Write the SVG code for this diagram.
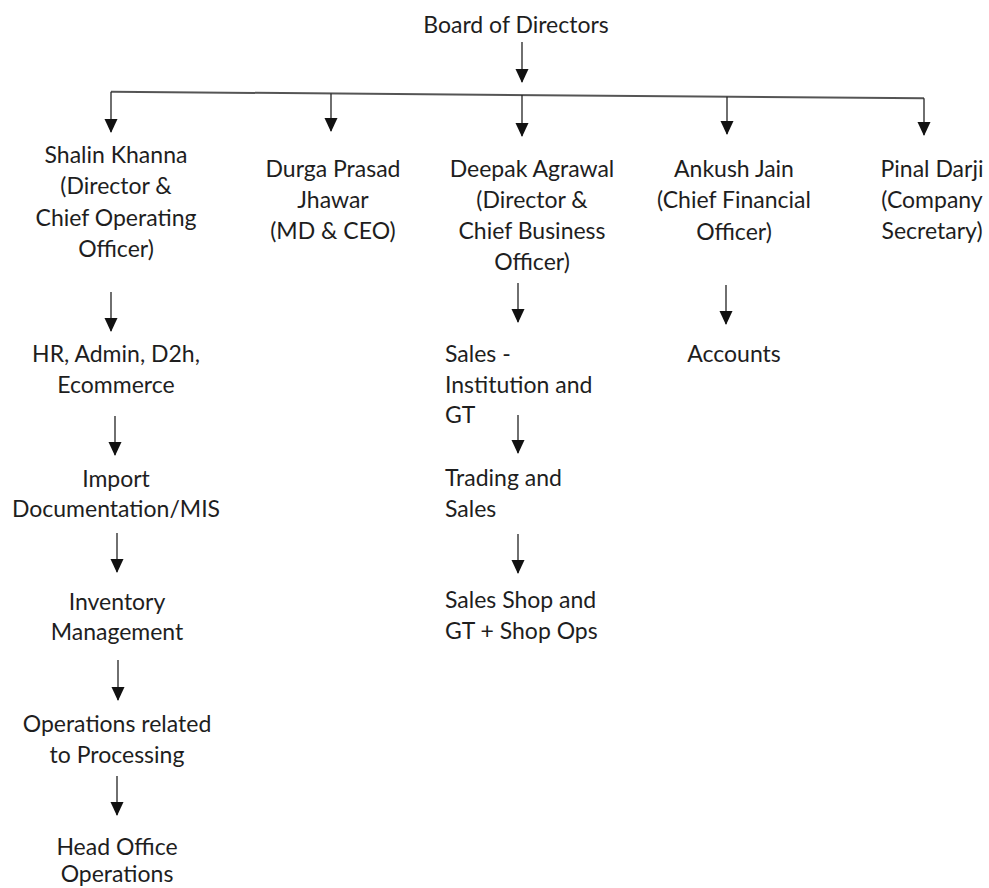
<svg xmlns="http://www.w3.org/2000/svg" width="989" height="888" viewBox="0 0 989 888">
<defs>
<marker id="ah" markerUnits="userSpaceOnUse" markerWidth="14" markerHeight="14" viewBox="0 0 14 14" refX="13" refY="7" orient="auto">
<path d="M0,0.5 L14,7 L0,13.5 Z" fill="#111"/>
</marker>
<style>
text{font-family:Lato,"Liberation Sans",sans-serif;font-size:23px;fill:#1e1e1e}
.c{text-anchor:middle}
.l{text-anchor:start}
.a{stroke:#222;stroke-width:1.3;fill:none}
.h{stroke:#555;stroke-width:2;fill:none}
</style>
</defs>
<rect width="989" height="888" fill="#fff"/>
<g id="connectors">
<line class="a" x1="522" y1="42" x2="522" y2="82" marker-end="url(#ah)"/>
<line class="h" x1="111" y1="91.7" x2="924" y2="98.3"/>
<line class="a" x1="111" y1="91.7" x2="111" y2="132" marker-end="url(#ah)"/>
<line class="a" x1="331" y1="93.5" x2="331" y2="131" marker-end="url(#ah)"/>
<line class="a" x1="522" y1="95" x2="522" y2="136" marker-end="url(#ah)"/>
<line class="a" x1="727" y1="96.7" x2="727" y2="134" marker-end="url(#ah)"/>
<line class="a" x1="924" y1="98.3" x2="924" y2="135" marker-end="url(#ah)"/>
<line class="a" x1="111" y1="292" x2="111" y2="331" marker-end="url(#ah)"/>
<line class="a" x1="115" y1="416" x2="115" y2="455" marker-end="url(#ah)"/>
<line class="a" x1="117" y1="533" x2="117" y2="572" marker-end="url(#ah)"/>
<line class="a" x1="118" y1="660" x2="118" y2="700" marker-end="url(#ah)"/>
<line class="a" x1="117" y1="776" x2="117" y2="815" marker-end="url(#ah)"/>
<line class="a" x1="518" y1="283" x2="518" y2="322" marker-end="url(#ah)"/>
<line class="a" x1="518" y1="415" x2="518" y2="453" marker-end="url(#ah)"/>
<line class="a" x1="518" y1="534" x2="518" y2="573" marker-end="url(#ah)"/>
<line class="a" x1="726" y1="285" x2="726" y2="324" marker-end="url(#ah)"/>
</g>
<g id="board"><text class="c" x="516" y="33">Board of Directors</text></g>
<g id="shalin"><text class="c" x="116" y="163">Shalin Khanna</text><text class="c" x="116" y="194">(Director &amp;</text><text class="c" x="116" y="226">Chief Operating</text><text class="c" x="116" y="257">Officer)</text></g>
<g id="durga"><text class="c" x="333" y="177">Durga Prasad</text><text class="c" x="333" y="208">Jhawar</text><text class="c" x="333" y="239">(MD &amp; CEO)</text></g>
<g id="deepak"><text class="c" x="532" y="177">Deepak Agrawal</text><text class="c" x="532" y="208">(Director &amp;</text><text class="c" x="532" y="239">Chief Business</text><text class="c" x="532" y="270">Officer)</text></g>
<g id="ankush"><text class="c" x="734" y="177">Ankush Jain</text><text class="c" x="734" y="208">(Chief Financial</text><text class="c" x="734" y="240">Officer)</text></g>
<g id="pinal"><text class="c" x="932" y="177">Pinal Darji</text><text class="c" x="932" y="208">(Company</text><text class="c" x="932" y="239">Secretary)</text></g>
<g id="hr"><text class="c" x="116" y="362">HR, Admin, D2h,</text><text class="c" x="116" y="393">Ecommerce</text></g>
<g id="import"><text class="c" x="116" y="487">Import</text><text class="c" x="116" y="517">Documentation/MIS</text></g>
<g id="inventory"><text class="c" x="117" y="610">Inventory</text><text class="c" x="117" y="640">Management</text></g>
<g id="operations"><text class="c" x="117" y="732">Operations related</text><text class="c" x="117" y="763">to Processing</text></g>
<g id="headoffice"><text class="c" x="117" y="855">Head Office</text><text class="c" x="117" y="882">Operations</text></g>
<g id="sales"><text class="l" x="445" y="362">Sales -</text><text class="l" x="445" y="393">Institution and</text><text class="l" x="445" y="423">GT</text></g>
<g id="trading"><text class="l" x="445" y="486">Trading and</text><text class="l" x="445" y="517">Sales</text></g>
<g id="shop"><text class="l" x="445" y="608">Sales Shop and</text><text class="l" x="445" y="639">GT + Shop Ops</text></g>
<g id="accounts"><text class="c" x="734" y="362">Accounts</text></g>
</svg>
